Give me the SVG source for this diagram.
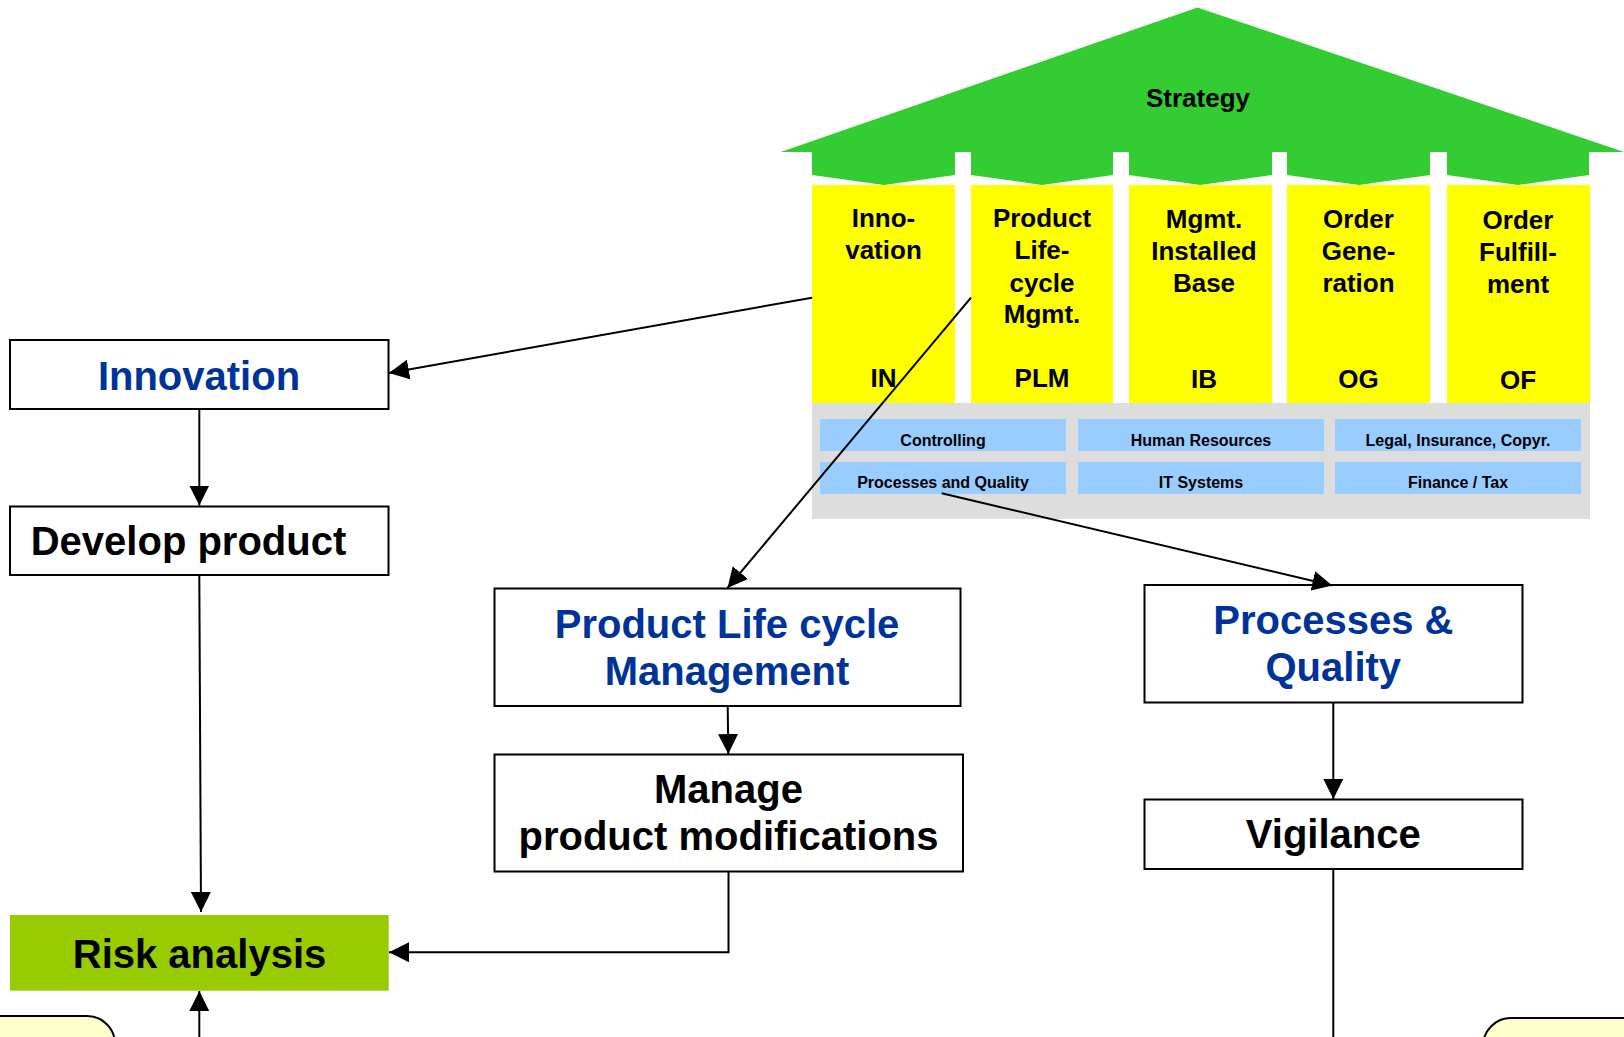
<svg xmlns="http://www.w3.org/2000/svg" width="1624" height="1037" viewBox="0 0 1624 1037">
<style>
.t{font-family:"Liberation Sans",Arial,sans-serif;font-weight:bold;text-anchor:middle}
.big{font-size:40px}
.col{font-size:26px;fill:#000}
.sm{font-size:16px;fill:#000}
.blue{fill:#003399}
.box{fill:#fff;stroke:#000;stroke-width:2}
.sup{fill:#99CCFF}
.con{fill:none;stroke:#000;stroke-width:2}
.yel{fill:#FFFF00}
.note{fill:#FFFFCC;stroke:#000;stroke-width:2}
</style>
<defs>
<marker id="ah" markerUnits="userSpaceOnUse" markerWidth="20" markerHeight="20" refX="20" refY="10" orient="auto" viewBox="0 0 20 20"><path d="M0,0 L20,10 L0,20 z" fill="#000"/></marker>
</defs>
<rect width="1624" height="1037" fill="#fff"/>
<g id="house">
<polygon fill="#33CC33" points="780.7,152 1197.5,7.5 1624,152 1589,152 1589,175 1518,185 1447,175 1447,152 1430,152 1430,175 1359,185 1287,175 1287,152 1272,152 1272,175 1200,185 1129,175 1129,152 1113,152 1113,175 1042,185 971,175 971,152 955,152 955,175 884,185 812,175 812,152"/>
<text class="t col" x="1198" y="107">Strategy</text>
<rect x="812" y="403" width="778" height="116" fill="#DDDDDD"/>
<g id="col-IN"><rect class="yel" x="812" y="185" width="143" height="218"/>
<text class="t col" x="883.5" y="227">Inno-</text><text class="t col" x="883.5" y="259">vation</text><text class="t col" x="883.5" y="387">IN</text></g>
<g id="col-PLM"><rect class="yel" x="971" y="185" width="142" height="218"/>
<text class="t col" x="1042" y="227">Product</text><text class="t col" x="1042" y="259">Life-</text><text class="t col" x="1042" y="291.5">cycle</text><text class="t col" x="1042" y="323">Mgmt.</text><text class="t col" x="1042" y="387">PLM</text></g>
<g id="col-IB"><rect class="yel" x="1129" y="185" width="143" height="218"/>
<text class="t col" x="1204" y="228">Mgmt.</text><text class="t col" x="1204" y="260">Installed</text><text class="t col" x="1204" y="291.5">Base</text><text class="t col" x="1204" y="388">IB</text></g>
<g id="col-OG"><rect class="yel" x="1287" y="185" width="143" height="218"/>
<text class="t col" x="1358.5" y="228">Order</text><text class="t col" x="1358.5" y="260">Gene-</text><text class="t col" x="1358.5" y="291.5">ration</text><text class="t col" x="1358.5" y="388">OG</text></g>
<g id="col-OF"><rect class="yel" x="1447" y="185" width="143" height="218"/>
<text class="t col" x="1518" y="229">Order</text><text class="t col" x="1518" y="261">Fulfill-</text><text class="t col" x="1518" y="293">ment</text><text class="t col" x="1518" y="389">OF</text></g>
<g id="support">
<rect class="sup" x="820" y="419" width="246" height="32"/><text class="t sm" x="943" y="445.5">Controlling</text>
<rect class="sup" x="1078" y="419" width="246" height="32"/><text class="t sm" x="1201" y="445.5">Human Resources</text>
<rect class="sup" x="1335" y="419" width="246" height="32"/><text class="t sm" x="1458" y="445.5">Legal, Insurance, Copyr.</text>
<rect class="sup" x="820" y="462" width="246" height="32"/><text class="t sm" x="943" y="488">Processes and Quality</text>
<rect class="sup" x="1078" y="462" width="246" height="32"/><text class="t sm" x="1201" y="488">IT Systems</text>
<rect class="sup" x="1335" y="462" width="246" height="32"/><text class="t sm" x="1458" y="488">Finance / Tax</text>
</g>
</g>
<g id="n-innovation"><rect class="box" x="10" y="340" width="378.5" height="69"/><text class="t big blue" x="199" y="390">Innovation</text></g>
<g id="n-develop"><rect class="box" x="10" y="506.5" width="378.5" height="68.5"/><text class="t big" x="188.5" y="555">Develop product</text></g>
<g id="n-risk"><rect x="10" y="915" width="378.7" height="75.7" fill="#99CC00"/><text class="t big" x="199.5" y="968">Risk analysis</text></g>
<g id="n-plm"><rect class="box" x="494.5" y="588.5" width="466" height="117.5"/><text class="t big blue" x="727" y="637.5">Product Life cycle</text><text class="t big blue" x="727" y="685">Management</text></g>
<g id="n-manage"><rect class="box" x="494.5" y="754.5" width="468.5" height="117"/><text class="t big" x="728.5" y="803">Manage</text><text class="t big" x="728.5" y="850">product modifications</text></g>
<g id="n-pq"><rect class="box" x="1144.5" y="585" width="378" height="117.5"/><text class="t big blue" x="1333.3" y="634">Processes &amp;</text><text class="t big blue" x="1333.3" y="681">Quality</text></g>
<g id="n-vigilance"><rect class="box" x="1144.5" y="799.5" width="378" height="69.5"/><text class="t big" x="1333.3" y="848">Vigilance</text></g>
<g id="n-note-left"><rect class="note" x="-40" y="1016" width="155" height="80" rx="28"/></g>
<g id="n-note-right"><rect class="note" x="1483" y="1018" width="200" height="80" rx="28"/></g>
<g id="connectors">
<line class="con" x1="812" y1="297.7" x2="389" y2="373" marker-end="url(#ah)"/>
<line class="con" x1="971" y1="297.7" x2="727.5" y2="588" marker-end="url(#ah)"/>
<line class="con" x1="941.7" y1="493.3" x2="1332.3" y2="585.5" marker-end="url(#ah)"/>
<line class="con" x1="199.3" y1="409" x2="199.3" y2="505.5" marker-end="url(#ah)"/>
<line class="con" x1="199.3" y1="575" x2="201" y2="912" marker-end="url(#ah)"/>
<line class="con" x1="727.7" y1="706" x2="728.3" y2="754" marker-end="url(#ah)"/>
<path class="con" d="M728.5,871.7 V952.3 H389" marker-end="url(#ah)"/>
<line class="con" x1="1333.3" y1="702.5" x2="1333.3" y2="799" marker-end="url(#ah)"/>
<line class="con" x1="1333.3" y1="869" x2="1333.3" y2="1037"/>
<line class="con" x1="199.3" y1="1037" x2="199.3" y2="991" marker-end="url(#ah)"/>
</g>
</svg>
